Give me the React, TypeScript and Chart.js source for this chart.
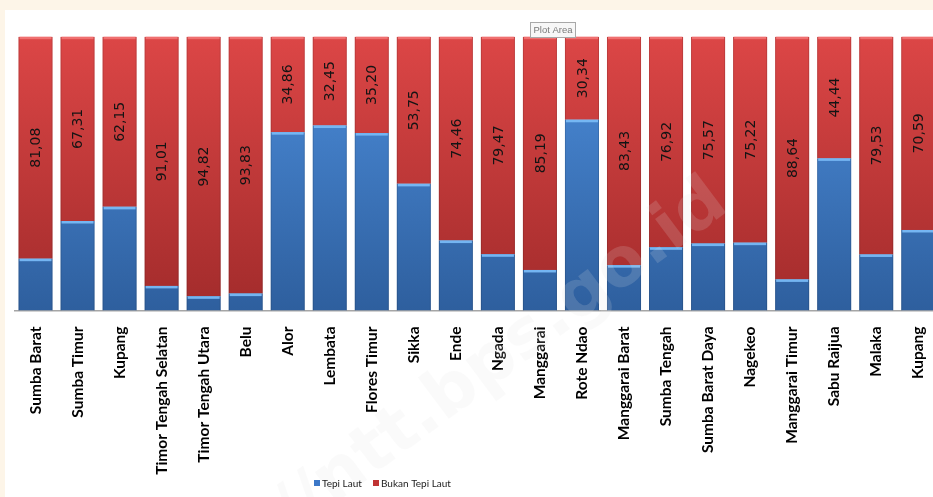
import React, { useEffect, useRef } from "react";
import { Chart, registerables } from "chart.js";

Chart.register(...registerables);

const categories = [
  "Sumba Barat", "Sumba Timur", "Kupang", "Timor Tengah Selatan", "Timor Tengah Utara",
  "Belu", "Alor", "Lembata", "Flores Timur", "Sikka", "Ende", "Ngada", "Manggarai",
  "Rote Ndao", "Manggarai Barat", "Sumba Tengah", "Sumba Barat Daya", "Nagekeo",
  "Manggarai Timur", "Sabu Raijua", "Malaka", "Kupang",
];

const tepiLaut = [
  18.92, 32.69, 37.85, 8.99, 5.18, 6.17, 65.14, 67.55, 64.8, 46.25, 25.54,
  20.53, 14.81, 69.66, 16.57, 23.08, 24.43, 24.78, 11.36, 55.56, 20.47, 29.41,
];

const bukanTepiLaut = [
  81.08, 67.31, 62.15, 91.01, 94.82, 93.83, 34.86, 32.45, 35.2, 53.75, 74.46,
  79.47, 85.19, 30.34, 83.43, 76.92, 75.57, 75.22, 88.64, 44.44, 79.53, 70.59,
];

const seriesNames = ["Tepi Laut", "Bukan Tepi Laut"];

const fmt = (v: number) => v.toFixed(2).replace(".", ",");

function vGrad(chart: any, top: string, bottom: string, fallback: string) {
  const area = chart.chartArea;
  if (!area) return fallback;
  const g = chart.ctx.createLinearGradient(0, area.top, 0, area.bottom);
  g.addColorStop(0, top);
  g.addColorStop(1, bottom);
  return g;
}

const decorPlugin = {
  id: "decor",
  afterDatasetsDraw(chart: any) {
    const ctx = chart.ctx;
    const caps = ["rgba(120,185,245,0.95)", "rgba(240,115,115,0.95)"];
    ctx.save();
    chart.data.datasets.forEach((ds: any, di: number) => {
      const meta = chart.getDatasetMeta(di);
      meta.data.forEach((bar: any) => {
        const w = bar.width;
        ctx.fillStyle = caps[di];
        ctx.fillRect(bar.x - w / 2 + 1, bar.y, w - 2, 2.5);
        ctx.fillStyle = "rgba(0,0,0,0.12)";
        ctx.fillRect(bar.x - w / 2, Math.min(bar.y, bar.base), 1, Math.abs(bar.base - bar.y));
        ctx.fillRect(bar.x + w / 2 - 1, Math.min(bar.y, bar.base), 1, Math.abs(bar.base - bar.y));
      });
    });
    // value labels on red segments
    const meta = chart.getDatasetMeta(1);
    ctx.font = "14px 'DejaVu Sans'";
    ctx.fillStyle = "#141414";
    ctx.textAlign = "center";
    ctx.textBaseline = "middle";
    meta.data.forEach((bar: any, i: number) => {
      const cy = (bar.y + bar.base) / 2;
      ctx.save();
      ctx.translate(bar.x, cy);
      ctx.rotate(-Math.PI / 2);
      ctx.fillText(fmt(bukanTepiLaut[i]), 0, 1);
      ctx.restore();
    });
    ctx.restore();
  },
  afterDraw(chart: any) {
    const ctx = chart.ctx;
    ctx.save();
    // watermark (drawn over everything, semi-transparent)
    ctx.save();
    ctx.translate(715, 185);
    ctx.rotate(-0.64);
    ctx.font = "bold 68px 'DejaVu Sans'";
    ctx.fillStyle = "rgba(225,225,225,0.17)";
    ctx.textAlign = "right";
    ctx.textBaseline = "middle";
    ctx.fillText("http://ntt.bps.go.id", 0, 0);
    ctx.restore();
    // legend
    const items = [
      { text: seriesNames[0], color: "#3c78c8", x: 309 },
      { text: seriesNames[1], color: "#c03333", x: 368 },
    ];
    ctx.font = "10px Lato";
    ctx.textBaseline = "middle";
    ctx.textAlign = "left";
    items.forEach((it) => {
      ctx.fillStyle = it.color;
      ctx.fillRect(it.x, 470, 6, 6);
      ctx.fillStyle = "#222";
      ctx.fillText(it.text, it.x + 8, 473.5);
    });
    // "Plot Area" hover tip
    ctx.fillStyle = "#f7f7f7";
    ctx.strokeStyle = "#a8a8a8";
    ctx.lineWidth = 1;
    ctx.fillRect(525.5, 12.5, 45, 15);
    ctx.strokeRect(525.5, 12.5, 45, 15);
    ctx.fillStyle = "#7a7a7a";
    ctx.font = "9.5px 'Liberation Sans'";
    ctx.textAlign = "center";
    ctx.fillText("Plot Area", 548, 20.5);
    ctx.restore();
  },
};

export default function App() {
  const ref = useRef<HTMLCanvasElement | null>(null);

  useEffect(() => {
    if (!ref.current) return;
    const chart = new Chart(ref.current, {
      type: "bar",
      data: {
        labels: categories,
        datasets: [
          {
            label: seriesNames[0],
            data: tepiLaut,
            backgroundColor: (c: any) => vGrad(c.chart, "#4d8edc", "#2e5f9e", "#3c78c8"),
            borderWidth: 0,
            barPercentage: 0.81,
            categoryPercentage: 1,
          },
          {
            label: seriesNames[1],
            data: bukanTepiLaut,
            backgroundColor: (c: any) => vGrad(c.chart, "#dc4646", "#a22b2b", "#c03333"),
            borderWidth: 0,
            barPercentage: 0.81,
            categoryPercentage: 1,
          },
        ],
      },
      options: {
        responsive: false,
        animation: false,
        devicePixelRatio: 1,
        layout: { padding: { left: 9.5, right: 6.5, top: 26.7, bottom: 0 } },
        plugins: {
          legend: { display: false },
          tooltip: { enabled: false },
        },
        scales: {
          x: {
            stacked: true,
            grid: { display: false, drawTicks: false },
            border: { display: true, color: "#a6a6a6", width: 1.5 },
            ticks: {
              autoSkip: false,
              maxRotation: 90,
              minRotation: 90,
              padding: 16,
              color: "#000",
              font: { family: "Lato", size: 15.5, weight: "bold" },
            },
            afterFit: (scale: any) => {
              scale.height = 186.5;
            },
          },
          y: {
            stacked: true,
            display: false,
            min: 0,
            max: 100,
          },
        },
      },
      plugins: [decorPlugin],
    });
    return () => chart.destroy();
  }, []);

  return (
    <div
      style={{
        position: "fixed",
        left: 0,
        top: 0,
        width: 933,
        height: 497,
        background: "#fdf5e8",
        overflow: "hidden",
      }}
    >
      <div
        style={{
          position: "absolute",
          left: 5,
          top: 10,
          width: 928,
          height: 487,
          background: "#ffffff",
          overflow: "hidden",
        }}
      >
        <canvas ref={ref} width={948} height={487} style={{ display: "block" }} />
      </div>
    </div>
  );
}
